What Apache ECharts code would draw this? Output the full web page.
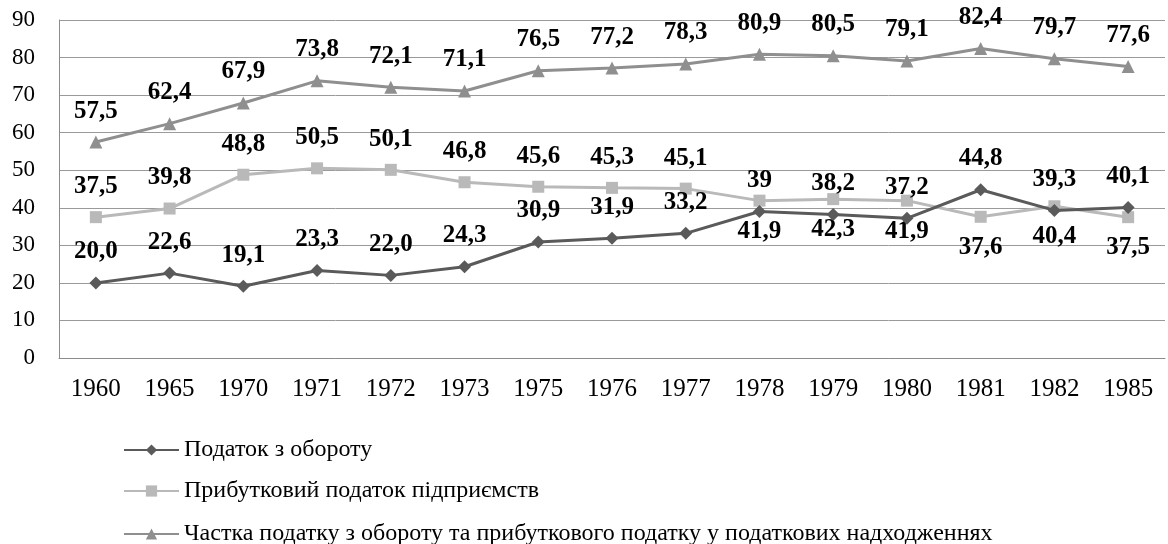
<!DOCTYPE html>
<html>
<head>
<meta charset="utf-8">
<script src="https://cdn.jsdelivr.net/npm/echarts@6/dist/echarts.min.js"></script>
<style>
html,body{margin:0;padding:0;background:#fff;}
#chart{width:1168px;height:544px;}
</style>
</head>
<body>
<div id="chart"></div>
<script>
const categories = ['1960','1965','1970','1971','1972','1973','1975','1976','1977','1978','1979','1980','1981','1982','1985'];
const turnoverTax = [20.0,22.6,19.1,23.3,22.0,24.3,30.9,31.9,33.2,39,38.2,37.2,44.8,39.3,40.1];
const turnoverTaxLabels = ['20,0','22,6','19,1','23,3','22,0','24,3','30,9','31,9','33,2','39','38,2','37,2','44,8','39,3','40,1'];
const profitTax = [37.5,39.8,48.8,50.5,50.1,46.8,45.6,45.3,45.1,41.9,42.3,41.9,37.6,40.4,37.5];
const shareTax = [57.5,62.4,67.9,73.8,72.1,71.1,76.5,77.2,78.3,80.9,80.5,79.1,82.4,79.7,77.6];
const seriesNames = ['Податок з обороту','Прибутковий податок підприємств','Частка податку з обороту та прибуткового податку у податкових надходженнях'];
const yTicks = {min:0,max:90,interval:10};

const swapFrom = categories.indexOf('1978');
const fontFam = '"Liberation Serif","Times New Roman",serif';
const labelBase = {show:true,color:'#000',fontFamily:fontFam,fontWeight:'bold',fontSize:25,distance:12};
const legendRowCenters = [448,489,532];
const legendLineH = 20;

function fmt(v){return String(v).replace('.',',');}

const chart = echarts.init(document.getElementById('chart'),null,{renderer:'canvas'});
chart.setOption({
  animation:false,
  backgroundColor:'#fff',
  grid:{left:59,right:3,top:20,bottom:186,containLabel:false},
  xAxis:{type:'category',data:categories,boundaryGap:true,
    axisLine:{lineStyle:{color:'#8c8c8c',width:1}},axisTick:{show:false},
    axisLabel:{color:'#000',fontFamily:fontFam,fontSize:25,margin:19}},
  yAxis:{type:'value',min:yTicks.min,max:yTicks.max,interval:yTicks.interval,
    axisLine:{show:true,lineStyle:{color:'#8c8c8c',width:1}},axisTick:{show:false},
    splitLine:{lineStyle:{color:'#9a9a9a',width:1}},
    axisLabel:{color:'#000',fontFamily:fontFam,fontSize:23,margin:24}},
  legend:seriesNames.map((n,i)=>({orient:'horizontal',left:123,top:legendRowCenters[i]-legendLineH/2,
    itemWidth:55,itemHeight:14,padding:0,
    textStyle:{color:'#000',fontFamily:fontFam,fontSize:24,lineHeight:legendLineH},
    data:[n]})),
  series:[
    {name:seriesNames[0],type:'line',symbol:'diamond',symbolSize:13,z:3,
     color:'#5a5a5a',lineStyle:{width:3,color:'#5a5a5a'},itemStyle:{color:'#5a5a5a'},
     label:Object.assign({},labelBase,{position:'top',formatter:p=>turnoverTaxLabels[p.dataIndex]}),
     data:turnoverTax.map(v=>({value:v}))},
    {name:seriesNames[1],type:'line',symbol:'rect',symbolSize:12,z:2,
     color:'#b9b9b9',lineStyle:{width:3,color:'#b9b9b9'},itemStyle:{color:'#b9b9b9'},
     label:Object.assign({},labelBase,{formatter:p=>fmt(p.value)}),
     data:profitTax.map((v,i)=>({value:v,label:{position:i>=swapFrom?'bottom':'top'}}))},
    {name:seriesNames[2],type:'line',symbol:'triangle',symbolSize:13,z:2,
     color:'#8f8f8f',lineStyle:{width:3,color:'#8f8f8f'},itemStyle:{color:'#8f8f8f'},
     label:Object.assign({},labelBase,{position:'top',formatter:p=>fmt(p.value)}),
     data:shareTax.map(v=>({value:v}))}
  ]
});
</script>
</body>
</html>
